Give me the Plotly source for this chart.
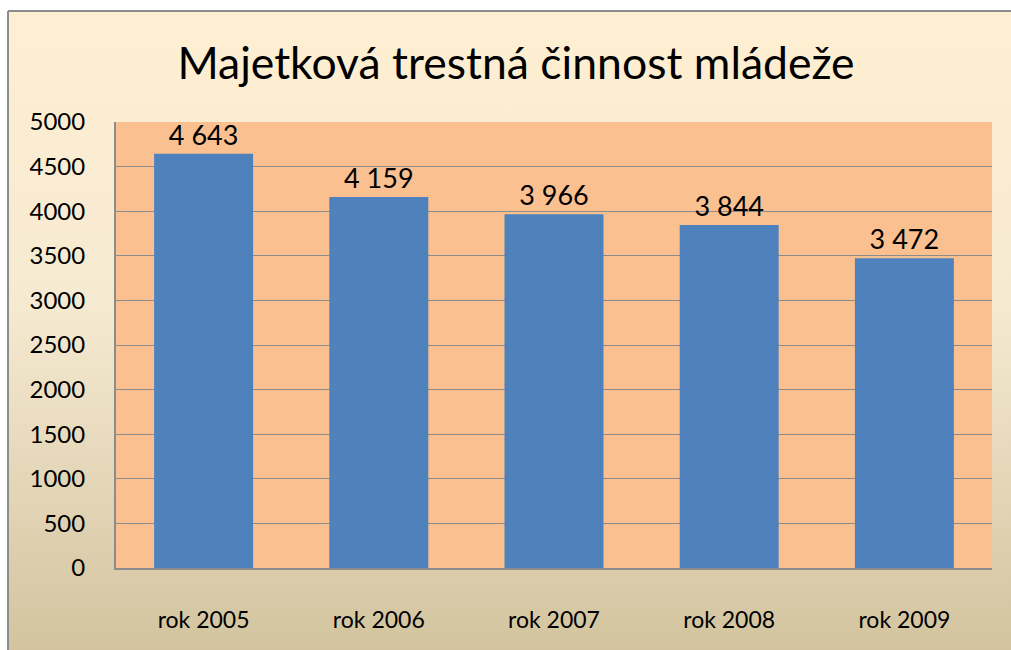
import plotly.graph_objects as go

categories = ["rok 2005", "rok 2006", "rok 2007", "rok 2008", "rok 2009"]
values = [4643, 4159, 3966, 3844, 3472]
y_ticks = [0, 500, 1000, 1500, 2000, 2500, 3000, 3500, 4000, 4500, 5000]
title_text = "Majetková trestná činnost mládeže"

W, H = 1011, 650
FONT = "Lato"

svg = (
    "<svg xmlns='http://www.w3.org/2000/svg' width='100' height='100' preserveAspectRatio='none'>"
    "<defs><linearGradient id='g' x1='0' y1='0' x2='0' y2='1'>"
    "<stop offset='0' stop-color='%23FFEFD2'/>"
    "<stop offset='0.45' stop-color='%23F6EAD2'/>"
    "<stop offset='1' stop-color='%23D3C49F'/>"
    "</linearGradient></defs>"
    "<rect width='100' height='100' fill='url(%23g)'/></svg>"
)
bg_src = "data:image/svg+xml;utf8," + svg

def px(x):
    return x / W

def py(y):
    return 1 - y / H

fig = go.Figure()
fig.add_trace(go.Bar(
    x=categories, y=values,
    marker=dict(color="#4F81BD", line=dict(width=0)),
    text=values,
    texttemplate="%{y:,}",
    textposition="outside",
    textfont=dict(family=FONT, size=27, color="black"),
    cliponaxis=False,
    width=0.565,
    hoverinfo="skip",
))

fig.update_layout(
    width=W, height=H,
    margin=dict(l=0, r=0, t=0, b=0),
    paper_bgcolor="white",
    plot_bgcolor="rgba(0,0,0,0)",
    separators=", ",
    showlegend=False,
    font=dict(family=FONT, color="black"),
    title=dict(text=title_text, x=516 / W, xanchor="center", y=py(63), yanchor="middle",
               font=dict(family=FONT, size=44.5, color="black")),
    images=[dict(source=bg_src, xref="paper", yref="paper",
                 x=px(8), y=py(11), sizex=1.0 - px(8), sizey=py(11),
                 xanchor="left", yanchor="top", sizing="stretch", layer="below")],
    shapes=[
        dict(type="line", xref="paper", yref="paper",
             x0=px(8), x1=1.0, y0=py(11), y1=py(11),
             line=dict(color="#8C8C8C", width=2), layer="below"),
        dict(type="line", xref="paper", yref="paper",
             x0=px(8), x1=px(8), y0=0, y1=py(11),
             line=dict(color="#8C8C8C", width=2), layer="below"),
        dict(type="rect", xref="x domain", yref="y domain",
             x0=0, x1=1, y0=0, y1=1,
             line=dict(width=0), fillcolor="#FAC090", layer="below"),
    ],
    xaxis=dict(domain=[px(116), px(992)], showgrid=False,
               showline=True, linecolor="#8C8C8C", linewidth=2,
               tickfont=dict(family=FONT, size=23, color="black"),
               ticklabelstandoff=30, automargin=False),
    yaxis=dict(domain=[py(568), py(122)], range=[0, 5000],
               tickvals=y_ticks, showgrid=True, gridcolor="#8C8C8C", gridwidth=1,
               showline=True, linecolor="#8C8C8C", linewidth=2,
               zeroline=False,
               tickfont=dict(family=FONT, size=24, color="black"),
               ticklabelstandoff=24, automargin=False),
    bargap=0.435,
)

fig.write_html(
    "out.html",
    config={"displayModeBar": False},
    post_script="document.body.style.margin='0';document.body.style.overflow='hidden';",
)
